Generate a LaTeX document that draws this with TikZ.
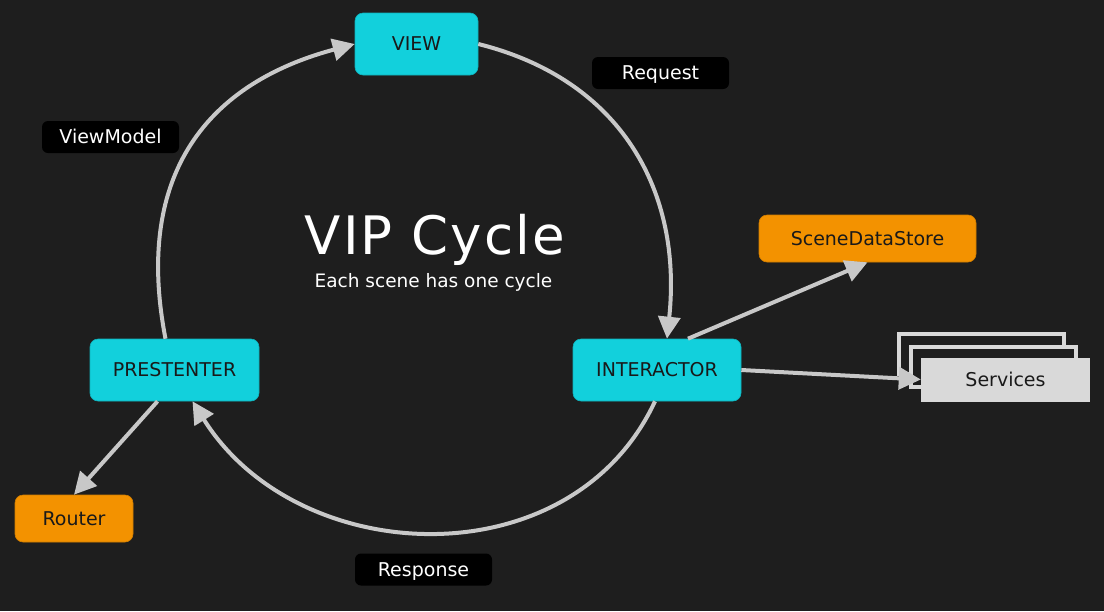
\documentclass[tikz,border=0pt]{standalone}
\usepackage{fontspec}
\setmainfont{DejaVu Sans}
\newfontfamily\titlefont[LetterSpace=4]{DejaVu Sans}
\usetikzlibrary{arrows.meta}
\definecolor{bgdark}{HTML}{1E1E1E}
\definecolor{scenecyan}{HTML}{12D0DC}
\definecolor{storeorange}{HTML}{F39200}
\definecolor{flowgray}{HTML}{C8C8C8}
\definecolor{servgray}{HTML}{D9D9D9}

\begin{document}
\begin{tikzpicture}[x=1pt,y=-1pt,
  scene/.style={fill=scenecyan, draw=scenecyan!85!black, line width=0.6pt, rounded corners=8pt, inner sep=0pt, minimum height=62, text=black!90, font=\fontsize{19}{23}\selectfont, text height=13.9pt, text depth=0pt},
  store/.style={scene, fill=storeorange, draw=storeorange!85!black, minimum height=47},
  tag/.style={fill=black, rounded corners=6pt, inner sep=0pt, minimum width=137, minimum height=32, text=white, font=\fontsize{19}{23}\selectfont, text height=13.9pt, text depth=0pt},
  servframe/.style={fill=bgdark, draw=servgray, line width=4pt, inner sep=0pt, minimum width=165, minimum height=40},
  flow/.style={draw=flowgray, line width=4pt, -{Triangle[length=22pt,width=22pt]}}]
\fill [bgdark] (0,0) rectangle (1104,611);
\useasboundingbox (0,0) rectangle (1104,611);
\node [scene, minimum width=123] (view) at (416.5,44) {VIEW};
\node [scene, minimum width=169] (pres) at (174.5,370) {PRESTENTER};
\node [scene, minimum width=168] (inter) at (657,370) {INTERACTOR};
\node [store, minimum width=217] (store) at (867.5,238.5) {SceneDataStore};
\node [store, minimum width=118] (router) at (74,518.5) {Router};
\node [tag] (request) at (660.5,73) {Request};
\node [tag] (viewmodel) at (110.5,137) {ViewModel};
\node [tag] (response) at (423.5,569.5) {Response};
\node [text=white, font=\titlefont\fontsize{53}{60}\selectfont, anchor=base] (title) at (435,254) {VIP Cycle};
\node [text=white, font=\fontsize{18.5}{22}\selectfont, anchor=base] (subtitle) at (433.5,287) {Each scene has one cycle};
\node [servframe] (servback) at (981.5,354) {};
\node [servframe] (servmid) at (993.5,366.5) {};
\node [fill=servgray, inner sep=0pt, minimum width=169, minimum height=44, text=black!90, font=\fontsize{19}{23}\selectfont, text height=13.9pt, text depth=0pt] (serv) at (1005.5,379.5) {Services};
\draw [flow] ([xshift=-9pt]pres.north) to [out=101, in=195, looseness=1.17] (view.west);
\draw [flow] (view.east) to [out=-14, in=84, looseness=1.08] ([xshift=10pt]inter.north);
\draw [flow] ([xshift=-2pt]inter.south) to [out=245, in=-58, looseness=1.1] ([xshift=18pt]pres.south);
\draw [flow] ([xshift=31pt]inter.north) -- (store.south);
\draw [flow] (inter.east) -- (serv.west);
\draw [flow] ([xshift=-17pt]pres.south) -- (router.north);
\end{tikzpicture}
\end{document}
